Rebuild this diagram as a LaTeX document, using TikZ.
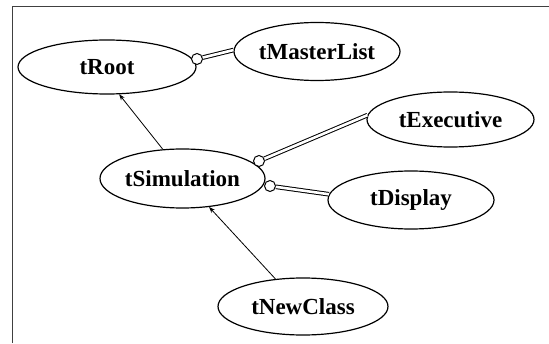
\documentclass[tikz,border=0pt]{standalone}
\usepackage{fontspec}
\setmainfont{Liberation Serif}
\usetikzlibrary{shapes.geometric,arrows.meta}
\tikzset{
  cls/.style={ellipse, draw, line width=1.2pt, inner sep=0pt, font=\fontsize{23}{25}\selectfont\bfseries},
  aggc/.style={circle, draw, line width=1pt, fill=white, minimum size=11pt, inner sep=0pt},
  agg/.style={double, line width=1pt, double distance=2.6pt},
  inh/.style={line width=0.8pt, -{Stealth[length=6pt,width=4.5pt]}},
  frame/.style={line width=1.3pt, black!75}
}
\begin{document}
\begin{tikzpicture}[x=1pt,y=1pt]
\useasboundingbox (0,0) rectangle (549,343);
\draw[frame] (12.5,0) -- (12.5,336.5) -- (549,336.5);
\node[cls, minimum width=178pt, minimum height=54pt] (root) at (107,276) {tRoot};
\node[cls, minimum width=166pt, minimum height=58pt] (ml) at (317,291.5) {tMasterList};
\node[cls, minimum width=167pt, minimum height=55pt] (exe) at (450.5,223.5) {tExecutive};
\node[cls, minimum width=165pt, minimum height=59pt] (sim) at (182.5,164.5) {tSimulation};
\node[cls, minimum width=166pt, minimum height=58pt] (dis) at (411,143) {tDisplay};
\node[cls, minimum width=170pt, minimum height=57pt] (nc) at (303,36.5) {tNewClass};
\node[aggc] (c1) at (197,284) {};
\node[aggc] (c2) at (259,182) {};
\node[aggc] (c3) at (270,157) {};
\draw[agg] (c1) -- (ml.179);
\draw[agg] (c2) -- (exe.177);
\draw[agg] (c3) -- (dis.176);
\draw[inh] (sim.124) -- (root.294);
\draw[inh] (nc.135) -- (sim.313);
\end{tikzpicture}
\end{document}
